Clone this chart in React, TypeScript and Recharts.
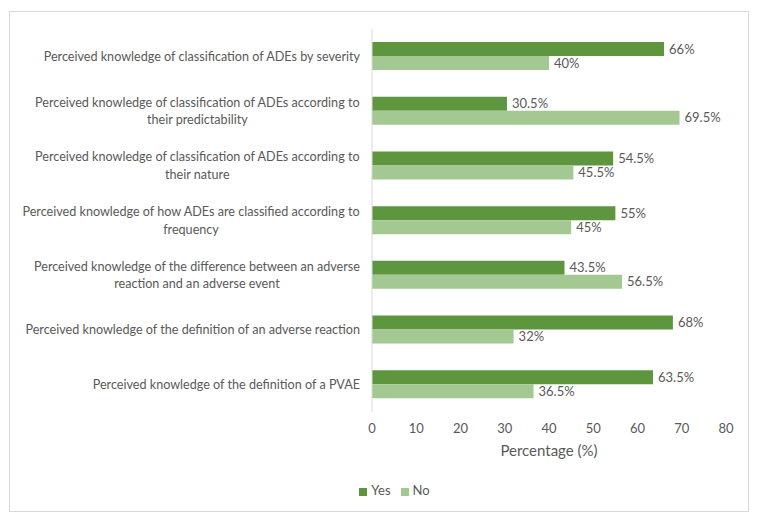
import { BarChart, Bar, XAxis, YAxis, Legend, LabelList } from 'recharts';

const categories = [
  'Perceived knowledge of classification of ADEs by severity',
  'Perceived knowledge of classification of ADEs according to\ntheir predictability',
  'Perceived knowledge of classification of ADEs according to\ntheir nature',
  'Perceived knowledge of how ADEs are classified according to\nfrequency',
  'Perceived knowledge of the difference between an adverse\nreaction and an adverse event',
  'Perceived knowledge of the definition of an adverse reaction',
  'Perceived knowledge of the definition of a PVAE',
];

const yesValues = [66, 30.5, 54.5, 55, 43.5, 68, 63.5];
const noValues = [40, 69.5, 45.5, 45, 56.5, 32, 36.5];

const xTicks = [0, 10, 20, 30, 40, 50, 60, 70, 80];

const FONT = 'Lato, "Open Sans", sans-serif';
const TEXT = '#595959';
const YES = '#5e9640';
const NO = '#a3c891';
const LABEL_SIZE = 12.6;

const data = categories.map((name, i) => ({ name, yes: yesValues[i], no: noValues[i] }));

let ctx: CanvasRenderingContext2D | null = null;
function textWidth(s: string) {
  if (!ctx) ctx = document.createElement('canvas').getContext('2d');
  if (!ctx) return s.length * 6;
  ctx.font = `${LABEL_SIZE}px ${FONT}`;
  return ctx.measureText(s).width;
}

// category label: first line right-aligned, following lines centred under it
function CategoryTick({ y, payload }: any) {
  const lines = String(payload.value).split('\n');
  const right = 360;
  const lineH = 17.5;
  const top = y - ((lines.length - 1) * lineH) / 2;
  if (lines.length === 1) {
    return (
      <text x={right} y={y} dy="0.35em" textAnchor="end" fill={TEXT} fontSize={LABEL_SIZE} fontFamily={FONT}>
        {lines[0]}
      </text>
    );
  }
  const cx = right - textWidth(lines[0]) / 2;
  return (
    <g>
      {lines.map((l, i) => (
        <text key={i} x={cx} y={top + i * lineH} dy="0.35em" textAnchor="middle" fill={TEXT} fontSize={LABEL_SIZE} fontFamily={FONT}>
          {l}
        </text>
      ))}
    </g>
  );
}

const seriesOrder = ['Yes', 'No'];

export default function App() {
  return (
    <div style={{ position: 'absolute', left: 0, top: 0, width: 759, height: 521, background: '#fff' }}>
      <div
        style={{
          position: 'absolute',
          left: 9,
          top: 11,
          width: 740,
          height: 501,
          border: '1px solid #d9d9d9',
          boxSizing: 'border-box',
        }}
      />
      <BarChart
        width={759}
        height={521}
        data={data}
        layout="vertical"
        barSize={14}
        barGap={0}
        margin={{ top: 29, right: 33, left: 0, bottom: 20 }}
        style={{ fontFamily: FONT }}
      >
        <XAxis
          type="number"
          domain={[0, 80]}
          ticks={xTicks}
          axisLine={false}
          tickLine={false}
          tickMargin={6}
          height={59}
          tick={{ fontSize: 13, fill: TEXT, fontFamily: FONT }}
          label={{ value: 'Percentage (%)', position: 'insideTop', offset: 33, fill: TEXT, fontSize: 15, fontFamily: FONT }}
        />
        <YAxis
          type="category"
          dataKey="name"
          width={372}
          tickLine={false}
          axisLine={{ stroke: '#d9d9d9' }}
          tick={<CategoryTick />}
          interval={0}
        />
        <Legend
          verticalAlign="bottom"
          align="center"
          height={30}
          iconType="square"
          iconSize={8}
          itemSorter={(item: any) => seriesOrder.indexOf(item.value)}
          wrapperStyle={{ fontSize: 13, fontFamily: FONT, top: 482, left: 20, width: 759 }}
          formatter={(v: string) => <span style={{ color: TEXT }}>{v}</span>}
        />
        <Bar dataKey="yes" name="Yes" fill={YES} isAnimationActive={false}>
          <LabelList dataKey="yes" position="right" offset={5} fill={TEXT} fontSize={13} fontFamily={FONT} formatter={(v: any) => `${v}%`} />
        </Bar>
        <Bar dataKey="no" name="No" fill={NO} isAnimationActive={false}>
          <LabelList dataKey="no" position="right" offset={5} fill={TEXT} fontSize={13} fontFamily={FONT} formatter={(v: any) => `${v}%`} />
        </Bar>
      </BarChart>
    </div>
  );
}
